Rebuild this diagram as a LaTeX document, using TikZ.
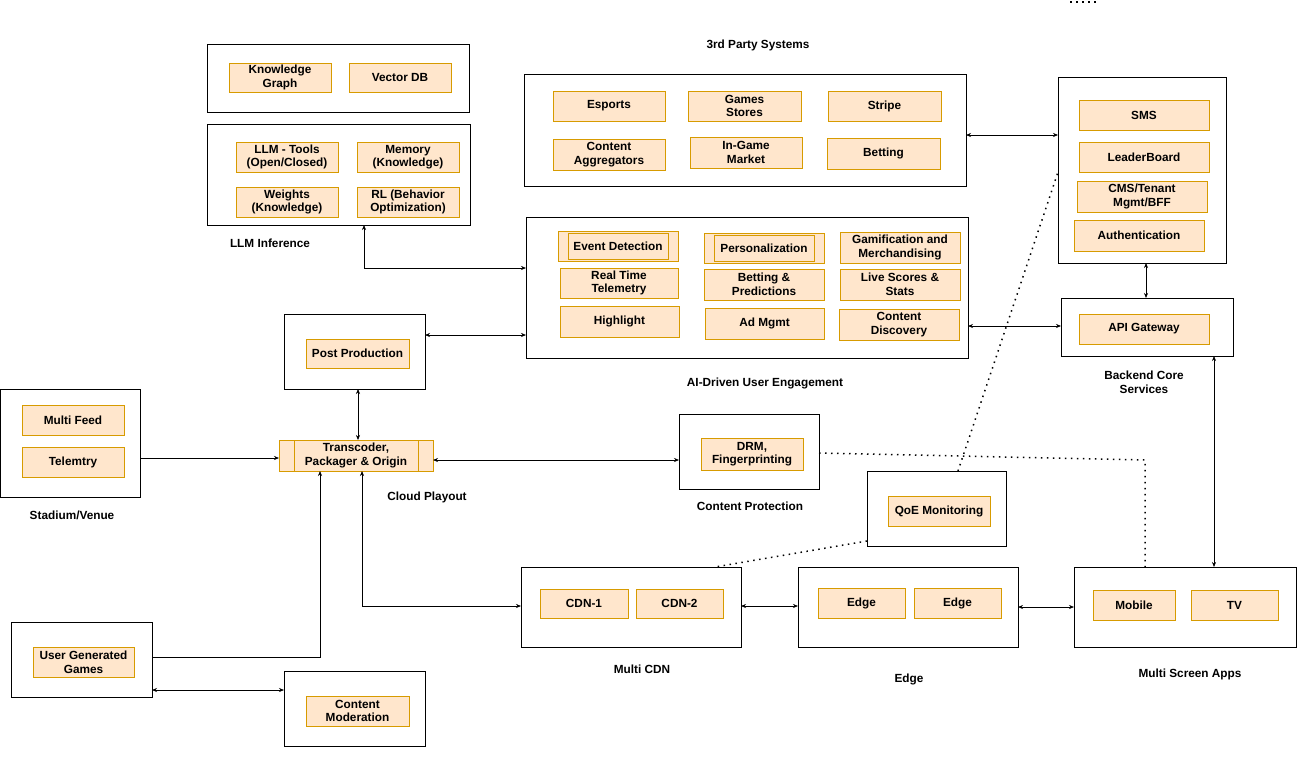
\documentclass[tikz,border=0pt]{standalone}
\usepackage{fontspec}
\setmainfont{Liberation Sans}
\usetikzlibrary{arrows.meta}
\newcommand{\bx}[7]{\node[#1, minimum width={(#5-#3)*1pt}, minimum height={(#6-#4)*1pt}] (#2) at ({(#3+#5)/2},{(#4+#6)/2}) {#7};}
\begin{document}
\begin{tikzpicture}[x=1pt,y=-1pt,
  font=\fontsize{11.8}{13.6}\selectfont\bfseries,
  ob/.style={draw=black, fill=white, line width=0.8pt, inner sep=0pt, outer sep=0pt},
  ib/.style={draw={rgb,255:red,215;green,155;blue,0}, fill={rgb,255:red,255;green,230;blue,204}, line width=0.8pt, inner sep=0pt, outer sep=0pt, align=center},
  lb/.style={align=center, inner sep=0pt},
  bi/.style={{Stealth[length=5pt,width=4pt]}-{Stealth[length=5pt,width=4pt]}, line width=0.6pt},
  ar/.style={-{Stealth[length=5pt,width=4pt]}, line width=0.6pt},
  dt/.style={line width=1.5pt, dash pattern=on 1.5pt off 4.5pt}]
\useasboundingbox (0,0) rectangle (1306,758);
% outer boxes
\bx{ob}{kg}{207}{44}{469}{112}{}
\bx{ob}{llm}{207}{124}{470}{225}{}
\bx{ob}{tp}{524}{74}{966}{186}{}
\bx{ob}{be}{1058}{77}{1226}{263}{}
\bx{ob}{api}{1061}{298}{1233}{356}{}
\bx{ob}{ai}{526}{217}{968}{358}{}
\bx{ob}{pp}{284}{314}{425}{389}{}
\bx{ob}{st}{0}{389}{140}{497}{}
\bx{ob}{cp}{679}{414}{819}{489}{}
\bx{ob}{qoe}{867}{471}{1006}{546}{}
\bx{ob}{cdn}{521}{567}{741}{647}{}
\bx{ob}{edge}{798}{567}{1018}{647}{}
\bx{ob}{ms}{1074}{567}{1296}{647}{}
\bx{ob}{ugg}{11}{622}{152}{697}{}
\bx{ob}{cm}{284}{671}{425}{746}{}
% inner boxes
\bx{ib}{i1}{229}{63}{331}{92}{Knowledge\\Graph}
\bx{ib}{i2}{349}{63}{451}{92}{Vector DB}
\bx{ib}{i3}{236}{142}{338}{172}{LLM - Tools\\(Open/Closed)}
\bx{ib}{i4}{357}{142}{459}{172}{Memory\\(Knowledge)}
\bx{ib}{i5}{236}{187}{338}{217}{Weights\\(Knowledge)}
\bx{ib}{i6}{357}{187}{459}{217}{RL (Behavior\\Optimization)}
\bx{ib}{i7}{553}{91}{665}{121}{Esports}
\bx{ib}{i8}{688}{91}{801}{121}{Games\\Stores}
\bx{ib}{i9}{828}{91}{941}{121}{Stripe}
\bx{ib}{i10}{553}{139}{665}{170}{Content\\Aggregators}
\bx{ib}{i11}{690}{137}{802}{168}{In-Game\\Market}
\bx{ib}{i12}{827}{138}{940}{169}{Betting}
\bx{ib}{i13}{1079}{100}{1209}{130}{SMS}
\bx{ib}{i14}{1079}{142}{1209}{172}{LeaderBoard}
\bx{ib}{i15}{1077}{181}{1207}{212}{CMS/Tenant\\Mgmt/BFF}
\bx{ib}{i16}{1074}{220}{1204}{251}{Authentication}
\bx{ib}{i17}{1079}{314}{1209}{344}{API Gateway}
\bx{ib}{i18}{558}{231}{678}{261}{}
\bx{ib}{i18b}{568}{233}{668}{259}{Event Detection}
\bx{ib}{i19}{704}{233}{824}{263}{}
\bx{ib}{i19b}{714}{235}{814}{261}{Personalization}
\bx{ib}{i20}{840}{232}{960}{263}{Gamification and\\Merchandising}
\bx{ib}{i21}{560}{268}{678}{298}{Real Time\\Telemetry}
\bx{ib}{i22}{704}{269}{824}{300}{Betting \&\\Predictions}
\bx{ib}{i23}{840}{269}{960}{300}{Live Scores \&\\Stats}
\bx{ib}{i24}{560}{306}{679}{337}{Highlight}
\bx{ib}{i25}{705}{308}{824}{339}{Ad Mgmt}
\bx{ib}{i26}{839}{309}{959}{340}{Content\\Discovery}
\bx{ib}{i27}{306}{339}{409}{368}{Post Production}
\bx{ib}{i28}{22}{405}{124}{435}{Multi Feed}
\bx{ib}{i29}{22}{447}{124}{477}{Telemtry}
\bx{ib}{tr}{279}{440}{433}{471}{Transcoder,\\Packager \& Origin}
\draw[draw={rgb,255:red,215;green,155;blue,0}, line width=0.8pt] (294,440) -- (294,471) (418,440) -- (418,471);
\bx{ib}{i30}{701}{438}{803}{470}{DRM,\\Fingerprinting}
\bx{ib}{i31}{888}{496}{990}{526}{QoE Monitoring}
\bx{ib}{i32}{540}{589}{628}{618}{CDN-1}
\bx{ib}{i33}{636}{589}{723}{618}{CDN-2}
\bx{ib}{i34}{818}{588}{905}{618}{Edge}
\bx{ib}{i35}{914}{588}{1001}{618}{Edge}
\bx{ib}{i36}{1093}{590}{1175}{620}{Mobile}
\bx{ib}{i37}{1191}{590}{1278}{620}{TV}
\bx{ib}{i38}{33}{647}{134}{677}{User Generated\\Games}
\bx{ib}{i39}{306}{696}{409}{726}{Content\\Moderation}
% labels
\node[lb] (l1) at (758,45) {3rd Party Systems};
\node[lb] (l2) at (270,243) {LLM Inference};
\node[lb] (l3) at (1144,382) {Backend Core\\Services};
\node[lb] (l4) at (765,383) {AI-Driven User Engagement};
\node[lb] (l5) at (72,515) {Stadium/Venue};
\node[lb] (l6) at (427,497) {Cloud Playout};
\node[lb] (l7) at (750,506) {Content Protection};
\node[lb] (l8) at (642,669) {Multi CDN};
\node[lb] (l9) at (909,679) {Edge};
\node[lb] (l10) at (1190,674) {Multi Screen Apps};
% connectors
\coordinate (c1) at (364,268);
\coordinate (c2) at (362,606);
\coordinate (c3) at (320,657);
\draw[bi] (tp.east|-0,135) -- (be.west|-0,135);
\draw[bi] (llm.south-|c1) -- (c1) -- (ai.west|-c1);
\draw[bi] (pp.east|-0,335) -- (ai.west|-0,335);
\draw[bi] (ai.east|-0,326) -- (api.west|-0,326);
\draw[bi] (be.south-|1146,0) -- (api.north-|1146,0);
\draw[bi] (api.south-|1214,0) -- (ms.north-|1214,0);
\draw[bi] (pp.south-|358,0) -- (tr.north-|358,0);
\draw[ar] (st.east|-0,458) -- (tr.west|-0,458);
\draw[bi] (tr.east|-0,460) -- (cp.west|-0,460);
\draw[bi] (tr.south-|c2) -- (c2) -- (cdn.west|-c2);
\draw[ar] (ugg.east|-c3) -- (c3) -- (tr.south-|c3);
\draw[bi] (ugg.east|-0,690) -- (cm.west|-0,690);
\draw[bi] (cdn.east|-0,606) -- (edge.west|-0,606);
\draw[bi] (edge.east|-0,607) -- (ms.west|-0,607);
% dotted
\coordinate (d1) at (1145,460);
\draw[dt] (cp.east|-0,453) -- (d1) -- (ms.north-|d1);
\draw[dt] (qoe.north-|958,0) -- (1058,172);
\draw[dt] (867,541) -- (cdn.north-|715,0);
\draw[dt] (1070,2) -- (1096,2);
\end{tikzpicture}
\end{document}
